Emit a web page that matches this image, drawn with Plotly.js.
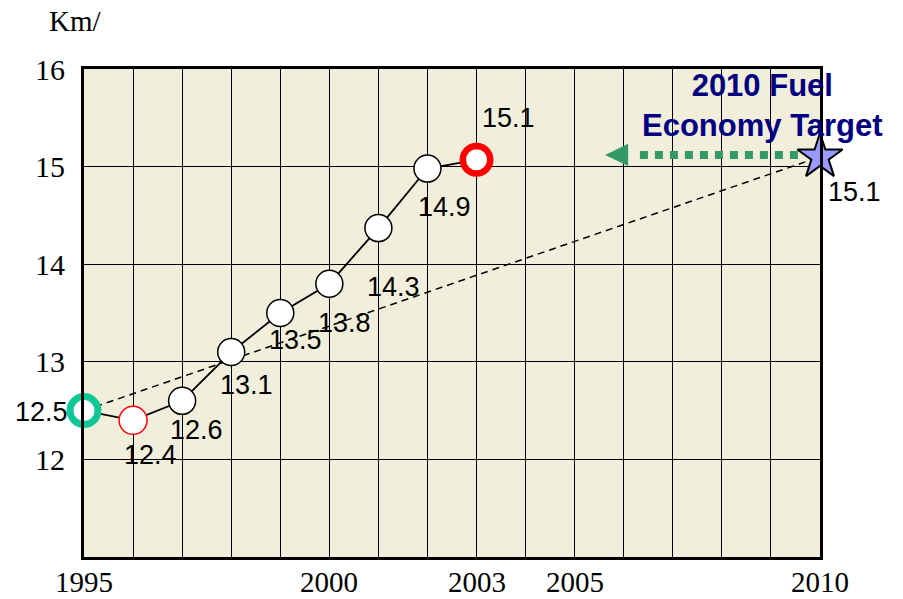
<!DOCTYPE html>
<html>
<head>
<meta charset="utf-8">
<script src="https://cdn.plot.ly/plotly-3.0.1.min.js"></script>
<style>html,body{margin:0;padding:0;background:#fff;}#chart{width:903px;height:599px;}</style>
</head>
<body>
<div id="chart"></div>
<script>
// ---- data ----
var years = [1995, 1996, 1997, 1998, 1999, 2000, 2001, 2002, 2003];
var kmPerL = [12.5, 12.4, 12.6, 13.1, 13.5, 13.8, 14.37, 14.98, 15.07];
var valueLabels = ["12.5", "12.4", "12.6", "13.1", "13.5", "13.8", "14.3", "14.9", "15.1"];
var targetYears = [1995, 2010];
var targetValues = [12.5, 15.1];
var targetLabel = "15.1";
var xTickVals = [1995, 2000, 2003, 2005, 2010];
var xTickText = ["1995", "2000", "2003", "2005", "2010"];
var yTickVals = [12, 13, 14, 15, 16];
var yTickText = ["12", "13", "14", "15", "16"];
var unitLabel = "Km/";
var targetTitle = "2010 Fuel<br>Economy Target";

// ---- styles ----
var markerSizes = [28, 28, 27, 27, 27, 27, 27, 27, 27.5];
var markerLineColors = ["#12c796", "#ff0000", "#000", "#000", "#000", "#000", "#000", "#000", "#ff0000"];
var markerLineWidths = [7, 1.5, 1.5, 1.5, 1.5, 1.5, 1.5, 1.5, 6.5];
// label offsets in pixels [dx, dy(down)]
var labelOffsets = [[-43, 1], [17, 35], [14, 29], [15, 33], [15, 27], [15, 39], [15, 59], [17, 38], [32, -42]];
var serif = "Liberation Serif, Times New Roman, serif";
var sans = "Liberation Sans, Arial, sans-serif";

var traces = [
  {
    x: targetYears, y: targetValues, mode: "lines", type: "scatter",
    line: {color: "#000", width: 1.5, dash: "7px,5px"}, hoverinfo: "skip"
  },
  {
    x: years, y: kmPerL, mode: "lines+markers", type: "scatter",
    line: {color: "#000", width: 1.8},
    marker: {color: "#fff", opacity: 1, size: markerSizes, line: {color: markerLineColors, width: markerLineWidths}},
    cliponaxis: false
  },
  {
    x: [targetYears[1]], y: [targetValues[1]], mode: "markers", type: "scatter",
    marker: {symbol: "star", size: 34, opacity: 1, color: "#9999ff", line: {color: "#000", width: 2}},
    cliponaxis: false
  }
];

var annotations = years.map(function (yr, i) {
  return {
    x: yr, y: kmPerL[i], text: valueLabels[i], showarrow: false,
    xshift: labelOffsets[i][0], yshift: -labelOffsets[i][1],
    font: {family: sans, size: 27, color: "#000"}, xanchor: "center", yanchor: "middle"
  };
});
annotations.push({
  x: targetYears[1], y: targetValues[1], text: targetLabel, showarrow: false,
  xshift: 34, yshift: -35, font: {family: sans, size: 27, color: "#000"},
  xanchor: "center", yanchor: "middle"
});
annotations.push({
  x: 2008.82, y: 15.63, text: "<b>" + targetTitle + "</b>", showarrow: false,
  font: {family: sans, size: 31, color: "#000080"}, xanchor: "center", yanchor: "middle"
});
annotations.push({
  xref: "paper", yref: "paper", x: -0.012, y: 1.0, yshift: 48, text: unitLabel, showarrow: false,
  font: {family: serif, size: 29, color: "#000"}, xanchor: "center", yanchor: "middle"
});
// x tick labels drawn as annotations at the tick values (so they sit close enough to the axis)
xTickVals.forEach(function (v, i) {
  annotations.push({
    x: v, xref: "x", yref: "paper", y: 0, yshift: -25, text: xTickText[i], showarrow: false,
    font: {family: serif, size: 29, color: "#000"}, xanchor: "center", yanchor: "middle"
  });
});

var arrowY = 15.12;
var shapes = [
  {type: "line", xref: "x", yref: "y", x0: 2009.55, x1: 2006.25, y0: arrowY, y1: arrowY,
   line: {color: "#339966", width: 8, dash: "8px,7px"}, layer: "above"},
  {type: "path", xref: "x", yref: "y",
   path: "M 2005.62 " + arrowY + " L 2006.09 " + (arrowY + 0.115) + " L 2006.09 " + (arrowY - 0.115) + " Z",
   fillcolor: "#339966", line: {width: 0}, layer: "above"}
];

var layout = {
  width: 903, height: 599,
  margin: {l: 84, r: 83, t: 69, b: 42},
  paper_bgcolor: "#fff",
  plot_bgcolor: "#f1eedb",
  showlegend: false,
  xaxis: {
    range: [1995, 2010], tickvals: xTickVals, ticktext: xTickText, showticklabels: false,
    showgrid: true, gridcolor: "#000", gridwidth: 1,
    minor: {tick0: 1995, dtick: 1, showgrid: true, gridcolor: "#000", gridwidth: 1},
    zeroline: false, showline: true, linecolor: "#000", linewidth: 3, mirror: true,
    ticks: "", ticklen: 0, fixedrange: true
  },
  yaxis: {
    range: [11, 16], tickvals: yTickVals, ticktext: yTickText,
    showgrid: true, gridcolor: "#000", gridwidth: 1,
    zeroline: false, showline: true, linecolor: "#000", linewidth: 3, mirror: true,
    ticks: "", ticklen: 0, ticklabelstandoff: 10,
    tickfont: {family: serif, size: 30, color: "#000"}, fixedrange: true
  },
  annotations: annotations,
  shapes: shapes
};

Plotly.newPlot("chart", traces, layout, {displayModeBar: false, staticPlot: true});
</script>
</body>
</html>
